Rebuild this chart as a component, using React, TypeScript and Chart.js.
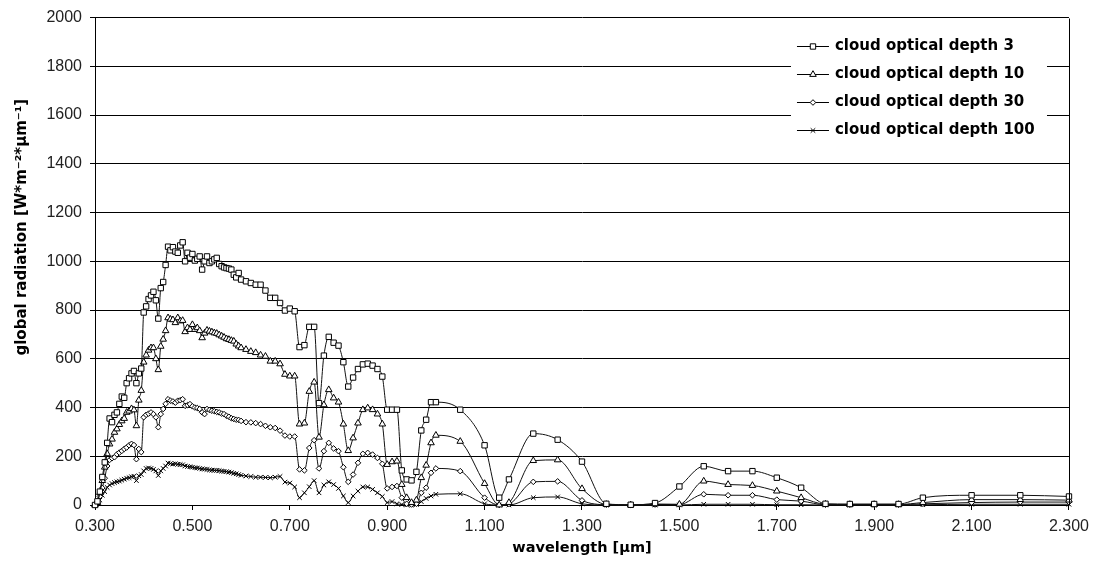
import React, { useEffect, useRef } from "react";
import { Chart, registerables } from "chart.js";
import { drawPoint } from "chart.js/helpers";

Chart.register(...registerables);

// wavelength [µm]
const wavelengths = [
  0.300, 0.305, 0.310, 0.315, 0.320, 0.325, 0.330, 0.335, 0.340, 0.345,
  0.350, 0.355, 0.360, 0.365, 0.370, 0.375, 0.380, 0.385, 0.390, 0.395,
  0.400, 0.405, 0.410, 0.415, 0.420, 0.425, 0.430, 0.435, 0.440, 0.445,
  0.450, 0.455, 0.460, 0.465, 0.470, 0.475, 0.480, 0.485, 0.490, 0.495,
  0.500, 0.505, 0.510, 0.515, 0.520, 0.525, 0.530, 0.535, 0.540, 0.545,
  0.550, 0.555, 0.560, 0.565, 0.570, 0.575, 0.580, 0.585, 0.590, 0.595,
  0.600,
  0.610, 0.620, 0.630, 0.640, 0.650, 0.660, 0.670, 0.680, 0.690, 0.700,
  0.710, 0.720, 0.730, 0.740, 0.750, 0.760, 0.770, 0.780, 0.790, 0.800,
  0.810, 0.820, 0.830, 0.840, 0.850, 0.860, 0.870, 0.880, 0.890, 0.900,
  0.910, 0.920, 0.930, 0.940, 0.950, 0.960, 0.970, 0.980, 0.990, 1.000,
  1.050, 1.100, 1.130, 1.150, 1.200, 1.250, 1.300, 1.350, 1.400, 1.450,
  1.500, 1.550, 1.600, 1.650, 1.700, 1.750, 1.800, 1.850, 1.900, 1.950,
  2.000, 2.100, 2.200, 2.300,
];

const depth3 = [
  0, 15, 55, 115, 175, 255, 355, 340, 370, 380,
  415, 445, 440, 500, 520, 540, 550, 500, 540, 560,
  790, 815, 845, 860, 875, 840, 765, 890, 915, 985,
  1060, 1045, 1058, 1040, 1035, 1065, 1078, 1000, 1035, 1015,
  1030, 1003, 1010, 1020, 966, 1000, 1020, 993, 1000, 1008,
  1014, 989, 980, 975, 972, 970, 966, 945, 934, 952,
  925,
  918, 911, 904, 904, 880, 850, 850, 829, 798, 806,
  795, 648, 656, 731, 731, 418, 613, 690, 666, 654,
  586, 486, 523, 558, 577, 580, 572, 558, 527, 391,
  391, 391, 142, 105, 101, 136, 306, 350, 422, 422,
  391, 245, 30, 105, 293, 268, 178, 5, 1, 8,
  76, 159, 139, 139, 112, 71, 5, 4, 4, 4,
  30, 40, 40, 35,
];

const depth10 = [
  0, 10, 50, 100, 155, 210, 250, 270, 298, 312,
  330, 345, 355, 380, 385, 395, 390, 325, 430, 470,
  586, 615, 635, 645, 645, 600, 555, 651, 680, 715,
  768, 762, 760, 748, 768, 755, 757, 711, 727, 720,
  740, 720, 727, 715, 686, 705, 717, 713, 710, 706,
  704, 698, 693, 688, 682, 679, 675, 672, 660, 652,
  645,
  638, 630, 625, 615, 610, 590, 590, 579, 536, 529,
  529, 332, 336, 466, 504, 278, 411, 473, 439, 422,
  332, 223, 275, 336, 391, 398, 391, 373, 332, 166,
  177, 180, 84, 30, 10, 20, 112, 163, 255, 286,
  261, 88, 0, 10, 182, 185, 67, 2, 0, 4,
  3, 98, 84, 80, 57, 30, 3, 2, 2, 2,
  10, 22, 22, 20,
];

const depth30 = [
  0, 12, 35, 70, 110, 160, 185, 192, 196, 208,
  215, 222, 230, 236, 245, 251, 246, 188, 230, 217,
  360, 370, 375, 380, 373, 360, 319, 373, 394, 415,
  434, 428, 425, 420, 428, 430, 434, 407, 410, 414,
  405, 400, 398, 394, 380, 373, 394, 390, 387, 385,
  382, 380, 375, 373, 366, 362, 356, 353, 350, 349,
  345,
  340, 339, 336, 332, 325, 319, 316, 305, 285, 281,
  281, 146, 142, 234, 266, 150, 221, 255, 232, 221,
  155, 95, 125, 173, 210, 214, 207, 193, 169, 68,
  74, 78, 30, 5, 2, 5, 50, 71, 132, 150,
  139, 30, 0, 4, 95, 97, 19, 1, 0, 2,
  2, 44, 40, 40, 22, 16, 1, 1, 1, 1,
  5, 10, 12, 12,
];

const depth100 = [
  0, 5, 20, 40, 55, 72, 82, 88, 92, 95,
  98, 102, 106, 110, 112, 116, 118, 100, 120, 125,
  140, 150, 152, 150, 146, 140, 121, 140, 150, 160,
  172, 170, 168, 169, 167, 166, 165, 160, 158, 157,
  155, 153, 152, 150, 148, 147, 146, 144, 143, 142,
  142, 141, 139, 138, 137, 135, 133, 130, 128, 125,
  122,
  119, 117, 114, 114, 113, 112, 114, 117, 94, 90,
  74, 30, 50, 75, 100, 50, 82, 95, 84, 68,
  37, 10, 37, 57, 74, 74, 64, 50, 35, 10,
  14, 5, 2, 0, 0, 2, 14, 27, 37, 44,
  46, 5, 0, 0, 30, 33, 5, 0, 0, 0,
  0, 3, 3, 3, 1, 1, 0, 0, 0, 0,
  1, 3, 3, 3,
];

const seriesLabels = [
  "cloud optical depth 3",
  "cloud optical depth 10",
  "cloud optical depth 30",
  "cloud optical depth 100",
];
const seriesValues = [depth3, depth10, depth30, depth100];
const seriesMarkers = ["rect", "triangle", "rectRot", "crossRot"];
const seriesMarkerRadius = [3.8, 3.8, 2.8, 3.2];

const yMin = 0;
const yMax = 2000;
const yStep = 200;
const xMin = 0.3;
const xMax = 2.3;
const xStep = 0.2;

const xTitle = "wavelength [µm]";
const yTitle = "global radiation [W*m⁻²*µm⁻¹]";

const extrasPlugin = {
  id: "extras",
  afterDatasetsDraw(chart: any) {
    const ctx = chart.ctx;
    const area = chart.chartArea;
    ctx.save();
    // legend box
    const boxRight = area.right - 22;
    const boxLeft = boxRight - 256;
    const boxTop = area.top + 13;
    ctx.fillStyle = "#fff";
    ctx.fillRect(boxLeft, boxTop, 256, 112);
    chart.data.datasets.forEach((ds: any, i: number) => {
      const y = Math.round(boxTop + 15 + i * 28) + 0.5;
      const lx = boxLeft + 6;
      ctx.strokeStyle = "#000";
      ctx.lineWidth = 1;
      ctx.beginPath();
      ctx.moveTo(lx, y);
      ctx.lineTo(lx + 32, y);
      ctx.stroke();
      ctx.fillStyle = "#fff";
      ctx.strokeStyle = "#000";
      drawPoint(
        ctx,
        { pointStyle: ds.pointStyle, radius: ds.pointRadius, borderWidth: 1, rotation: 0 },
        lx + 16,
        y
      );
      ctx.fillStyle = "#000";
      ctx.font = 'bold 15px "DejaVu Sans"';
      ctx.textAlign = "left";
      ctx.textBaseline = "middle";
      ctx.fillText(ds.label, lx + 38, y);
    });
    ctx.restore();
  },
  afterDraw(chart: any) {
    const ctx = chart.ctx;
    const area = chart.chartArea;
    ctx.save();
    ctx.strokeStyle = "#000";
    ctx.lineWidth = 1;
    ctx.beginPath();
    const rx = Math.round(area.right) + 0.5;
    ctx.moveTo(rx, Math.round(area.top) + 0.5);
    ctx.lineTo(rx, Math.round(area.bottom) + 0.5);
    ctx.stroke();
    // y axis title
    ctx.translate(22, area.top + (area.bottom - area.top) * 0.43);
    ctx.rotate(-Math.PI / 2);
    ctx.fillStyle = "#000";
    ctx.font = 'bold 15px "DejaVu Sans"';
    ctx.textAlign = "center";
    ctx.textBaseline = "middle";
    ctx.fillText(yTitle, 0, 0);
    ctx.restore();
  },
};

export default function App() {
  const canvasRef = useRef<HTMLCanvasElement | null>(null);

  useEffect(() => {
    const canvas = canvasRef.current;
    if (!canvas) return;
    const datasets = seriesValues.map((vals, i) => ({
      label: seriesLabels[i],
      data: wavelengths.map((w, j) => ({ x: w, y: vals[j] })),
      borderColor: "#111",
      borderWidth: 1,
      pointStyle: seriesMarkers[i],
      pointRadius: seriesMarkerRadius[i],
      pointBorderWidth: 1,
      pointBorderColor: "#000",
      pointBackgroundColor: "#fff",
      cubicInterpolationMode: "monotone",
      fill: false,
      clip: { left: 6, right: 6, top: 6, bottom: 6 },
    }));
    const chart = new Chart(canvas, {
      type: "line",
      data: { datasets },
      options: {
        animation: false,
        responsive: false,
        events: [],
        layout: { padding: { left: 0, right: 26, top: 16, bottom: 0 } },
        plugins: {
          legend: { display: false },
          tooltip: { enabled: false },
        },
        scales: {
          x: {
            type: "linear",
            min: xMin,
            max: xMax,
            afterFit: (s: any) => {
              s.height = 61;
            },
            ticks: {
              stepSize: xStep,
              color: "#222",
              padding: 7,
              maxRotation: 0,
              font: { family: '"Liberation Sans", Arial, sans-serif', size: 16 },
              callback: (v: any) => Number(v).toFixed(3),
            },
            grid: {
              drawOnChartArea: false,
              drawTicks: true,
              tickLength: 5,
              color: "#000",
            },
            border: { display: true, color: "#000", width: 1 },
            title: {
              display: true,
              text: xTitle,
              color: "#000",
              font: { family: '"DejaVu Sans"', size: 14.5, weight: "bold" },
              padding: { top: 0, bottom: 9 },
            },
          },
          y: {
            type: "linear",
            min: yMin,
            max: yMax,
            afterFit: (s: any) => {
              s.width = 95;
            },
            ticks: {
              stepSize: yStep,
              color: "#222",
              padding: 8,
              font: { family: '"Liberation Sans", Arial, sans-serif', size: 16 },
              callback: (v: any) => String(Math.round(Number(v))),
            },
            grid: {
              color: "#000",
              lineWidth: 1,
              drawTicks: true,
              tickLength: 5,
            },
            border: { display: true, color: "#000", width: 1 },
          },
        },
      },
      plugins: [extrasPlugin],
    } as any);
    return () => chart.destroy();
  }, []);

  return (
    <div style={{ position: "fixed", left: 0, top: 0, width: 1096, height: 566, background: "#fff" }}>
      <canvas ref={canvasRef} width={1096} height={566} style={{ width: 1096, height: 566, display: "block" }} />
    </div>
  );
}
